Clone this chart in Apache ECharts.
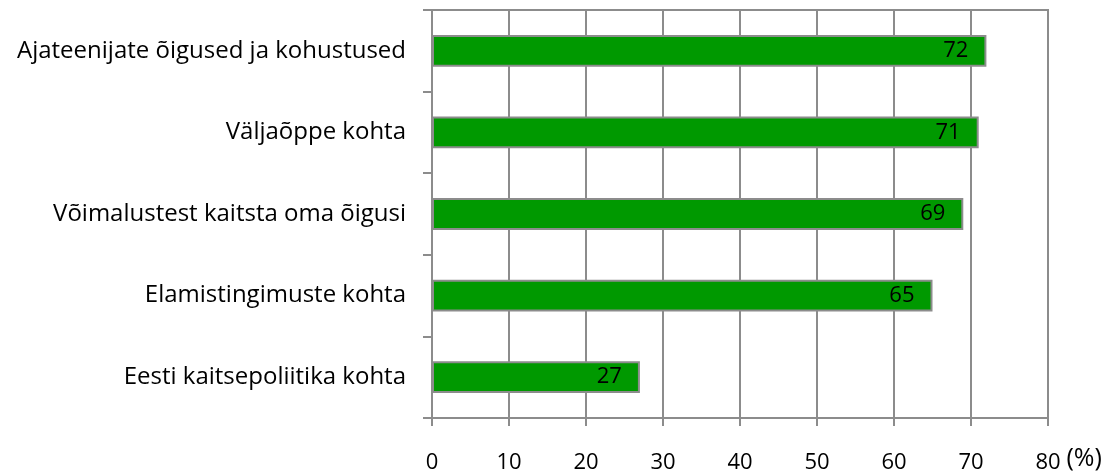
<!DOCTYPE html>
<html><head><meta charset="utf-8">
<script src="https://cdn.jsdelivr.net/npm/echarts@6/dist/echarts.min.js"></script>
<style>html,body{margin:0;padding:0;background:#fff}#c{width:1109px;height:474px}</style>
</head><body><div id="c"></div>
<script>
const categories = ["Ajateenijate õigused ja kohustused","Väljaõppe kohta","Võimalustest kaitsta oma õigusi","Elamistingimuste kohta","Eesti kaitsepoliitika kohta"];
const values = [72, 71, 69, 65, 27];
const axisName = "(%)";
const FONT = "Open Sans";
const chart = echarts.init(document.getElementById('c'));
chart.setOption({
  animation:false,
  grid:{left:432,top:10,right:61,bottom:56,show:true,borderColor:'#8c8c8c',borderWidth:2,containLabel:false},
  xAxis:{type:'value',min:0,max:80,interval:10,
    name:axisName,nameLocation:'end',nameGap:5,
    nameTextStyle:{fontFamily:FONT,fontSize:25,color:'#000',verticalAlign:'top',padding:[28,0,0,0]},
    axisLine:{show:true,lineStyle:{color:'#8c8c8c',width:2}},
    axisTick:{show:true,length:8,lineStyle:{color:'#8c8c8c',width:2}},
    splitLine:{show:true,lineStyle:{color:'#8c8c8c',width:2}},
    axisLabel:{fontFamily:FONT,fontSize:22,color:'#000',margin:34}},
  yAxis:{type:'category',data:categories,inverse:true,
    axisLine:{show:true,lineStyle:{color:'#8c8c8c',width:2}},
    axisTick:{show:true,length:9,inside:false,lineStyle:{color:'#8c8c8c',width:2}},
    axisLabel:{fontFamily:FONT,fontSize:24,color:'#000',margin:26}},
  series:[{type:'bar',data:values,barWidth:'39%',
    itemStyle:{color:'#009900',borderColor:'#8c8c8c',borderWidth:2},
    label:{show:true,position:'insideRight',distance:18,fontFamily:FONT,fontSize:22,color:'#000'}}]
});
</script></body></html>
